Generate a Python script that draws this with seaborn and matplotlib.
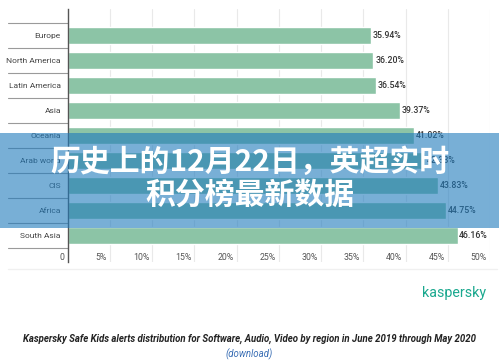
import numpy as np
import pandas as pd
import seaborn as sns
import matplotlib.pyplot as plt
import matplotlib.transforms as mtransforms
from matplotlib.patches import Rectangle
from matplotlib.lines import Line2D

# Chart data
regions = ["Europe", "North America", "Latin America", "Asia", "Oceania",
           "Arab world", "CIS", "Africa", "South Asia"]
share = [35.94, 36.20, 36.54, 39.37, 41.02, 42.33, 43.83, 44.75, 46.16]
x_ticks = [0, 5, 10, 15, 20, 25, 30, 35, 40, 45, 50]
x_tick_labels = ["0", "5%", "10%", "15%", "20%", "25%", "30%", "35%", "40%", "45%", "50%"]

banner_lines = ["历史上的12月22日，英超实时", "积分榜最新数据"]
caption = ("Kaspersky Safe Kids alerts distribution for Software, Audio, "
           "Video by region in June 2019 through May 2020")

sns.set_style("white")
plt.rcParams["font.family"] = ["Roboto", "Noto Sans CJK SC", "DejaVu Sans"]

W, H = 499, 362
fig = plt.figure(figsize=(W / 100, H / 100), dpi=100)
fig.patch.set_facecolor("white")

# Main axes: 0% at x=68, 50% at x=490, top at y=9, bottom (with tick area) at y=262
ax = fig.add_axes([67.8 / W, 1 - 262 / H, (490 - 67.8) / W, (262 - 9) / H])

df = pd.DataFrame({"region": regions, "share": share})
sns.barplot(data=df, x="share", y="region", orient="h", color="#8cc4a6",
            saturation=1, width=0.68, ax=ax)

ax.set_xlim(0, 50)
ax.set_ylim(len(regions) - 0.5 + 0.56, -1.06)
ax.set_xlabel("")
ax.set_ylabel("")
ax.set_xticks(x_ticks)
ax.set_axisbelow(True)
ax.grid(axis="x", color="#e9e9e9", lw=0.8)
ax.tick_params(axis="x", length=0, labelbottom=False)
ax.tick_params(axis="y", length=0, pad=5, labelsize=6.0, labelcolor="#444444")
for side in ["top", "right", "bottom"]:
    ax.spines[side].set_visible(False)
ax.spines["left"].set_color("#555555")
ax.spines["left"].set_linewidth(1)

# x tick labels sit just left of each gridline
tick_tr = mtransforms.offset_copy(ax.transData, fig=fig, x=-3, y=0, units="dots")
for xv, lab in zip(x_ticks, x_tick_labels):
    ax.text(xv, len(regions) - 0.5 + 0.36, lab, transform=tick_tr, ha="right",
            va="center", fontsize=6.3, color="#555555")

# value labels
for i, v in enumerate(share):
    ax.text(v + 0.2, i, f"{v:.2f}%", va="center", ha="left", fontsize=6.3,
            color="#333333", fontweight="medium")

# row separators on the label side
sep_tr = mtransforms.blended_transform_factory(fig.transFigure, ax.transData)
for b in np.arange(len(regions) + 1) - 0.5:
    ax.add_line(Line2D([8 / W, 67.8 / W], [b, b], transform=sep_tr,
                       color="#9a9a9a", lw=0.8, clip_on=False))

# faint rule under the chart
fig.add_artist(Line2D([8 / W, 497 / W], [1 - 269 / H] * 2, color="#f0f0f0", lw=1))

# logo and caption
fig.text(486 / W, 1 - 293 / H, "kaspersky", ha="right", va="center",
         fontsize=10.3, color="#1aa88e")
fig.text(0.5, 1 - 339 / H, caption, ha="center", va="center", fontsize=6.9,
         style="italic", fontweight="bold", color="#222222")
fig.text(0.5, 1 - 354 / H, "(download)", ha="center", va="center", fontsize=6.9,
         style="italic", color="#3b6fb5")

# translucent banner with title
fig.add_artist(Rectangle((0, 1 - 228 / H), 1, 95 / H, transform=fig.transFigure,
                         facecolor=(30 / 255, 122 / 255, 188 / 255), alpha=0.6,
                         edgecolor="none", zorder=10))
fig.text(0.5, 1 - 162 / H, banner_lines[0], ha="center", va="center", fontsize=21.5,
         fontweight="bold", color="white", zorder=11,
         family=["Noto Sans CJK SC", "DejaVu Sans"])
fig.text(0.5, 1 - 195 / H, banner_lines[1], ha="center", va="center", fontsize=21.5,
         fontweight="bold", color="white", zorder=11,
         family=["Noto Sans CJK SC", "DejaVu Sans"])

fig.savefig("out.png", dpi=100)
